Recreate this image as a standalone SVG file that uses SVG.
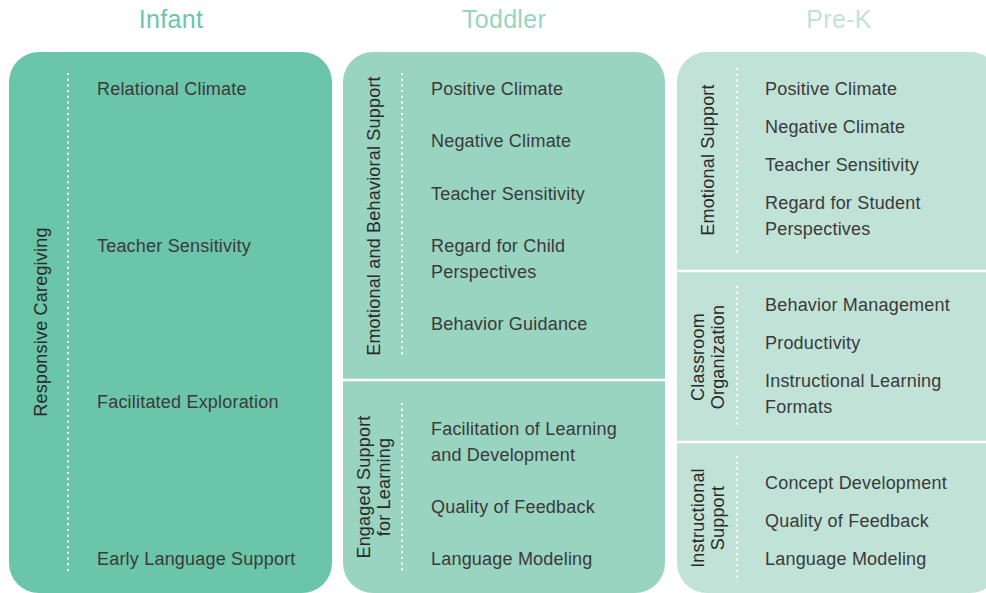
<svg xmlns="http://www.w3.org/2000/svg" width="986" height="593" viewBox="0 0 986 593">
<style>
.title{font-family:"Liberation Sans",Arial,sans-serif;font-size:25px;letter-spacing:0.3px;text-anchor:middle}
.item{font-family:"Liberation Sans",Arial,sans-serif;font-size:18px;letter-spacing:0.2px;fill:#3a3a3a}
.vlabel{font-family:"Liberation Sans",Arial,sans-serif;font-size:18px;letter-spacing:0.2px;fill:#2a2a2a;text-anchor:middle}
.dots{stroke:#ffffff;stroke-width:2;stroke-dasharray:2 3.7;fill:none}
.divider{stroke:#ffffff;stroke-width:2.5}
</style>
<rect width="986" height="593" fill="#ffffff"/>
<g id="titles">
<text class="title" x="171" y="28" fill="#6BC5A9">Infant</text>
<text class="title" x="504" y="28" fill="#99D4C0">Toddler</text>
<text class="title" x="839" y="28" fill="#C1E3D7">Pre-K</text>
</g>
<g id="infant">
<rect x="9" y="52" width="323" height="541" rx="30" ry="30" fill="#6BC5A9"/>
<g id="infant-responsive-caregiving">
<text class="vlabel" transform="translate(47,322) rotate(-90)">Responsive Caregiving</text>
<line class="dots" x1="68" y1="73" x2="68" y2="573"/>
<text class="item" x="97" y="95">Relational Climate</text>
<text class="item" x="97" y="252">Teacher Sensitivity</text>
<text class="item" x="97" y="408">Facilitated Exploration</text>
<text class="item" x="97" y="565">Early Language Support</text>
</g>
</g>
<g id="toddler">
<rect x="343" y="52" width="322" height="541" rx="30" ry="30" fill="#99D4C0"/>
<line class="divider" x1="343" y1="380" x2="665" y2="380"/>
<g id="toddler-emotional">
<text class="vlabel" transform="translate(380,216) rotate(-90)">Emotional and Behavioral Support</text>
<line class="dots" x1="402" y1="73" x2="402" y2="358"/>
<text class="item" x="431" y="95">Positive Climate</text>
<text class="item" x="431" y="147">Negative Climate</text>
<text class="item" x="431" y="200">Teacher Sensitivity</text>
<text class="item" x="431" y="252">Regard for Child</text>
<text class="item" x="431" y="278">Perspectives</text>
<text class="item" x="431" y="330">Behavior Guidance</text>
</g>
<g id="toddler-engaged">
<text class="vlabel" transform="translate(370,487) rotate(-90)">Engaged Support</text>
<text class="vlabel" transform="translate(390,487) rotate(-90)">for Learning</text>
<line class="dots" x1="402" y1="403" x2="402" y2="573"/>
<text class="item" x="431" y="435">Facilitation of Learning</text>
<text class="item" x="431" y="461">and Development</text>
<text class="item" x="431" y="513">Quality of Feedback</text>
<text class="item" x="431" y="565">Language Modeling</text>
</g>
</g>
<g id="prek">
<rect x="677" y="52" width="323" height="541" rx="30" ry="30" fill="#C1E3D7"/>
<line class="divider" x1="677" y1="271" x2="1000" y2="271"/>
<line class="divider" x1="677" y1="442" x2="1000" y2="442"/>
<g id="prek-emotional">
<text class="vlabel" transform="translate(714,160) rotate(-90)">Emotional Support</text>
<line class="dots" x1="737" y1="68" x2="737" y2="255"/>
<text class="item" x="765" y="95">Positive Climate</text>
<text class="item" x="765" y="133">Negative Climate</text>
<text class="item" x="765" y="171">Teacher Sensitivity</text>
<text class="item" x="765" y="209">Regard for Student</text>
<text class="item" x="765" y="235">Perspectives</text>
</g>
<g id="prek-classroom">
<text class="vlabel" transform="translate(704,357) rotate(-90)">Classroom</text>
<text class="vlabel" transform="translate(724,357) rotate(-90)">Organization</text>
<line class="dots" x1="737" y1="286" x2="737" y2="428"/>
<text class="item" x="765" y="311">Behavior Management</text>
<text class="item" x="765" y="349">Productivity</text>
<text class="item" x="765" y="387">Instructional Learning</text>
<text class="item" x="765" y="413">Formats</text>
</g>
<g id="prek-instructional">
<text class="vlabel" transform="translate(704,518) rotate(-90)">Instructional</text>
<text class="vlabel" transform="translate(724,518) rotate(-90)">Support</text>
<line class="dots" x1="737" y1="456" x2="737" y2="582"/>
<text class="item" x="765" y="489">Concept Development</text>
<text class="item" x="765" y="527">Quality of Feedback</text>
<text class="item" x="765" y="565">Language Modeling</text>
</g>
</g>
</svg>
